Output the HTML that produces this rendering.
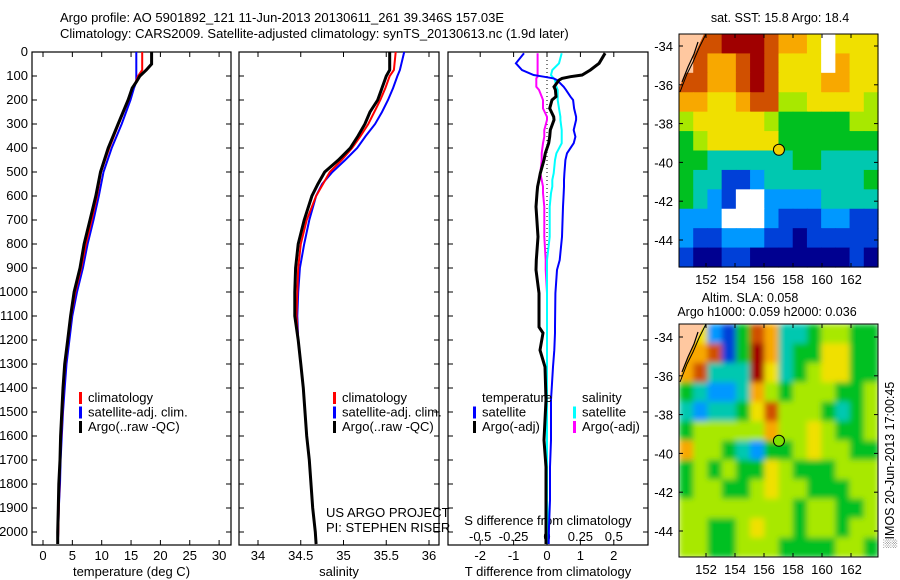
<!DOCTYPE html>
<html><head><meta charset="utf-8"><title>Argo profile</title>
<style>
html,body{margin:0;padding:0;background:#fff;}
svg{display:block;font-family:"Liberation Sans",sans-serif;font-size:12px;}
</style></head>
<body>
<svg id="chart" width="900" height="580" viewBox="0 0 900 580" xmlns="http://www.w3.org/2000/svg">
<defs>
<filter id="blur" x="-5%" y="-5%" width="110%" height="110%"><feGaussianBlur stdDeviation="3"/></filter>
<clipPath id="clip2"><rect x="679" y="324" width="199" height="233"/></clipPath>
</defs>
<text x="60" y="22" font-size="13">Argo profile: AO 5901892_121 11-Jun-2013 20130611_261 39.346S 157.03E</text>
<text x="60" y="38" font-size="13">Climatology: CARS2009. Satellite-adjusted climatology: synTS_20130613.nc (1.9d later)</text>
<g id="g"></g>
</svg>
<script>
// ---------- data ----------
const depthTemp = [0,50,75,100,125,150,200,300,400,500,600,700,800,900,1000,1100,1200,1300,1400,1500,1600,1700,1800,1900,2000,2050];
const tempArgo  = [18.5,18.5,17.6,16.5,15.9,15.2,14.5,12.8,11.1,9.8,9.0,8.0,7.0,6.3,5.3,4.7,4.2,3.7,3.4,3.2,3.0,2.9,2.7,2.6,2.5,2.5];
const tempClim  = [16.9,16.9,16.9,16.2,15.8,15.2,14.6,12.9,11.3,9.9,9.2,8.3,7.3,6.5,5.5,4.8,4.3,3.8,3.5,3.3,3.1,2.9,2.8,2.7,2.6,2.5];
const tempSat   = [15.9,15.9,15.9,15.9,15.9,15.5,14.9,13.4,11.7,10.3,9.5,8.6,7.6,6.8,5.8,5.0,4.5,4.0,3.7,3.4,3.2,3.0,2.9,2.7,2.6,2.5];
const depthSal  = [0,75,100,150,200,250,300,350,400,450,500,550,600,700,800,900,1000,1100,1200,1300,1400,1500,1600,1700,1800,1900,2000,2050];
const salArgo   = [35.54,35.54,35.50,35.45,35.40,35.31,35.25,35.17,35.08,34.94,34.78,34.70,34.63,34.54,34.47,34.44,34.43,34.43,34.47,34.50,34.53,34.55,34.57,34.60,34.62,34.64,34.67,34.68];
const salClim   = [35.61,35.59,35.54,35.49,35.43,35.36,35.29,35.20,35.10,34.98,34.84,34.76,34.68,34.57,34.50,34.47,34.46,34.45,34.47,34.50,34.53,34.55,34.57,34.60,34.62,34.64,34.67,34.68];
const salSat    = [35.71,35.66,35.63,35.58,35.52,35.45,35.37,35.26,35.16,35.02,34.87,34.75,34.68,34.60,34.54,34.49,34.47,34.46,34.47,34.50,34.53,34.55,34.57,34.60,34.62,34.64,34.67,34.68];
const depthDiff = [5,47,75,96,103,110,117,145,158,186,200,235,270,283,325,353,380,422,450,505,533,561,588,645,770,867,908,1005,1146,1171,1242,1312,1450,1617,1729,1867,1979,2050];
const tdiffArgo = [1.74,1.56,1.30,1.05,0.70,0.45,0.36,0.21,0.25,0.27,0.15,0.08,0.20,0.21,0.10,0.08,0.05,-0.05,-0.09,-0.20,-0.24,-0.28,-0.30,-0.33,-0.27,-0.32,-0.33,-0.24,-0.24,-0.12,-0.21,-0.06,-0.03,-0.09,-0.03,-0.03,-0.03,-0.03];
const tdiffSat  = [-0.69,-0.93,-0.75,-0.40,-0.10,0.20,0.30,0.50,0.57,0.70,0.78,0.81,0.87,0.87,0.80,0.85,0.80,0.60,0.55,0.52,0.51,0.51,0.50,0.48,0.45,0.38,0.30,0.25,0.24,0.24,0.22,0.18,0.12,0.12,0.09,0.09,0.06,0.05];
const sdiffSat  = [0.11,0.09,0.04,0.03,0.04,0.05,0.06,0.07,0.08,0.08,0.08,0.09,0.10,0.10,0.11,0.11,0.11,0.07,0.06,0.05,0.04,0.04,0.03,0.02,0.02,0.0,0.0,0.0,0.0,0.0,0.0,0.0,0.0,0.0,0.0,0.0,0.01,0.01];
const sdiffArgo = [-0.07,-0.07,-0.07,-0.07,-0.07,-0.08,-0.08,-0.08,-0.06,-0.04,-0.03,-0.03,0.0,0.0,-0.02,-0.02,-0.03,-0.04,-0.04,-0.05,-0.04,-0.03,-0.03,-0.02,-0.02,-0.01,-0.01,0.0,0.0,0.0,0.0,0.0,0.0,0.0,0.0,0.0,0.0,0.0];
const depthTicks = [0,100,200,300,400,500,600,700,800,900,1000,1100,1200,1300,1400,1500,1600,1700,1800,1900,2000];
const tempTicks = [0,5,10,15,20,25,30];
const salTicks = [34,34.5,35,35.5,36];
const tdTicks = [-2,-1,0,1,2];
const sdTicks = [-0.5,-0.25,0,0.25,0.5];
const lonTicks = [152,154,156,158,160,162];
const latTicks = [-34,-36,-38,-40,-42,-44];
// SST map levels (0 navy .. 9 dark red), -1 land, 99 missing
const sstGrid = [
[-1,8,8,9,9,9,8,7,7,6,99,6,6,6],
[-1,8,7,7,8,9,8,6,6,6,99,7,6,6],
[8,8,7,7,8,9,8,6,6,6,7,7,6,6],
[7,7,6,6,7,8,8,5,5,6,6,6,6,5],
[5,6,6,6,6,6,5,4,4,4,4,4,5,5],
[4,5,6,6,6,6,6,4,4,4,4,4,4,4],
[4,4,3,3,3,3,3,3,4,4,3,3,3,3],
[4,3,3,1,1,2,3,3,3,3,3,3,3,4],
[4,3,2,1,99,99,2,2,2,2,3,3,3,3],
[2,2,2,99,99,99,2,1,1,1,2,2,1,1],
[2,1,1,2,2,2,1,1,0,1,1,1,1,1],
[1,0,0,1,1,0,0,0,0,0,0,0,1,0]];
const slaGrid = [
[7,6,2,1,4,8,7,3,3,4,5,5,4,4],
[7,7,8,1,4,9,7,3,4,4,6,6,4,4],
[7,8,3,3,3,9,6,3,4,5,6,6,4,4],
[4,3,2,2,3,7,5,4,5,5,5,4,4,5],
[3,2,3,3,4,6,8,5,5,5,4,3,4,5],
[4,5,5,5,5,5,7,5,5,6,5,4,4,5],
[7,5,5,4,3,2,4,4,5,6,5,5,4,4],
[4,5,4,5,4,4,6,5,4,4,4,5,5,5],
[4,5,5,4,4,5,6,5,5,4,4,4,5,5],
[5,5,5,5,5,5,5,5,4,5,5,4,4,5],
[5,5,4,4,5,6,5,5,4,5,5,4,5,5],
[5,5,4,4,5,5,5,4,4,4,4,5,5,4]];
const argoLon = 157.03, argoLat = -39.35;
const palette = ['#000090','#0040d8','#0098ff','#00c8b0','#00c020','#a8e800','#f0e000','#f8a800','#d05000','#a00000'];

// ---------- helpers ----------
const NS='http://www.w3.org/2000/svg';
const G=document.getElementById('g');
function el(tag,attrs,parent){const e=document.createElementNS(NS,tag);for(const k in attrs)e.setAttribute(k,attrs[k]);(parent||G).appendChild(e);return e;}
function txt(x,y,s,anchor,parent,size){const t=el('text',{x:x,y:y,'text-anchor':anchor||'start'},parent);if(size)t.setAttribute('font-size',size);t.textContent=s;return t;}
const yD = d => 52 + d*0.24;
const TOP=52, BOT=545;

function panel(name,x0,x1,xs,ticks,tickFmt,leftLabels,label){
  const g=el('g',{});
  
  
  el('rect',{x:x0,y:TOP,width:x1-x0,height:BOT-TOP,fill:'none',stroke:'#000','stroke-width':1.2},g);
  depthTicks.forEach(d=>{
    const y=yD(d);
    el('line',{x1:x0,y1:y,x2:x0+5,y2:y,stroke:'#000'},g);
    el('line',{x1:x1-5,y1:y,x2:x1,y2:y,stroke:'#000'},g);
    if(leftLabels){const t=txt(28,y+4,String(d),'end',g,13);}
  });
  ticks.forEach(v=>{
    const x=xs(v);
    el('line',{x1:x,y1:TOP,x2:x,y2:TOP+5,stroke:'#000'},g);
    el('line',{x1:x,y1:BOT-5,x2:x,y2:BOT,stroke:'#000'},g);
    if(tickFmt){const t=txt(x,560,tickFmt(v),'middle',g,13);}
  });
  if(label){const t=txt((x0+x1)/2,576,label,'middle',g,13);}
  return g;
}
function line(xs,depths,vals,color,w,name){
  let d='';
  vals.forEach((v,i)=>{d+=(i?'L':'M')+xs(v).toFixed(1)+','+yD(depths[i]).toFixed(1);});
  const p=el('path',{d:d,fill:'none',stroke:color,'stroke-width':w,'stroke-linejoin':'miter'});
  
  
  return p;
}
function legend(x,y,items,name){
  const g=el('g',{});
  
  
  items.forEach((it,i)=>{
    const yy=y+i*14.5;
    if(it[1]) el('rect',{x:x,y:yy-10,width:3,height:12,fill:it[1]},g);
    txt(x+9,yy,it[0],'start',g,13);
  });
}

// ---------- panel 1: temperature ----------
const xT = v => 43 + v*5.87;
panel('temperature-panel',32,231,xT,tempTicks,v=>String(v),true,'temperature (deg C)');
line(xT,depthTemp,tempSat,'#0000ff',2,'temp-satellite-line');
line(xT,depthTemp,tempClim,'#ff0000',2,'temp-climatology-line');
line(xT,depthTemp,tempArgo,'#000000',3,'temp-argo-line');
legend(79,402,[['climatology','#ff0000'],['satellite-adj. clim.','#0000ff'],['Argo(..raw -QC)','#000']],'temperature-legend');

// ---------- panel 2: salinity ----------
const xS = v => 258 + (v-34)*85.5;
panel('salinity-panel',239,439,xS,salTicks,v=>String(v),false,'salinity');
line(xS,depthSal,salSat,'#0000ff',2,'sal-satellite-line');
line(xS,depthSal,salClim,'#ff0000',2,'sal-climatology-line');
line(xS,depthSal,salArgo,'#000000',3,'sal-argo-line');
legend(333,402,[['climatology','#ff0000'],['satellite-adj. clim.','#0000ff'],['Argo(..raw -QC)','#000']],'salinity-legend');
txt(326,517,'US ARGO PROJECT','start',null,13);
txt(326,532,'PI: STEPHEN RISER','start',null,13);

// ---------- panel 3: differences ----------
const xTD = v => 547 + v*33.4;
const xSD = v => 547 + v*133.6;
panel('difference-panel',448,648,xTD,tdTicks,v=>String(v),false,'T difference from climatology');
sdTicks.forEach(v=>{const t=txt(xSD(v),541,String(v),'middle',null,13);});
txt(548,525,'S difference from climatology','middle',null,13);
el('line',{x1:xTD(0),y1:TOP,x2:xTD(0),y2:BOT,stroke:'#000','stroke-dasharray':'1,3'});
line(xSD,depthDiff,sdiffArgo,'#ff00ff',2,'sdiff-argo-line');
line(xSD,depthDiff,sdiffSat,'#00ffff',2,'sdiff-satellite-line');
line(xTD,depthDiff,tdiffSat,'#0000ff',2,'tdiff-satellite-line');
line(xTD,depthDiff,tdiffArgo,'#000000',3,'tdiff-argo-line');
legend(473,402,[['temperature',null],['satellite','#0000ff'],['Argo(-adj)','#000']],'tdiff-legend');
legend(573,402,[['salinity',null],['satellite','#00ffff'],['Argo(-adj)','#ff00ff']],'sdiff-legend');

// ---------- maps ----------
function map(name,grid,x0,x1,y0,y1,latRef,latPx,smooth){
  const g=el('g',{});
  
  
  const lonX = lo => 706 + (lo-152)*14.5;
  const latY = la => latRef + (-34-la)*latPx;
  const nr=grid.length, nc=grid[0].length;
  const cw=(x1-x0)/nc, ch=(y1-y0)/nr;
  let cells=g;
  if(smooth){
    const clipG=el('g',{'clip-path':'url(#clip2)'},g);
    cells=el('g',{filter:'url(#blur)'},clipG);
  }
  grid.forEach((row,r)=>row.forEach((v,c)=>{
    const fill = v===-1 ? '#ffc8a0' : (v===99 ? '#ffffff' : palette[v]);
    const rc=el('rect',{x:(x0+c*cw).toFixed(2),y:(y0+r*ch).toFixed(2),width:(cw+0.6).toFixed(2),height:(ch+0.6).toFixed(2),fill:fill},cells);
    
    
  }));
  // land & coastline
  el('polygon',{points:`${x0},${y0} ${x0+25},${y0} ${x0},${y0+54}`,fill:'#ffc8a0'},g);
  el('polyline',{points:`${x0+1},${y0+58} ${x0+8},${y0+40} ${x0+14},${y0+28} ${x0+20},${y0+14} ${x0+27},${y0}`,fill:'none',stroke:'#000','stroke-width':1},g);
  el('polyline',{points:`${x0+3},${y0+48} ${x0+9},${y0+33} ${x0+15},${y0+20} ${x0+19},${y0+8}`,fill:'none',stroke:'#000','stroke-width':1.2},g);
  el('rect',{x:x0,y:y0,width:x1-x0,height:y1-y0,fill:'none',stroke:'#000'},g);
  lonTicks.forEach(lo=>{const x=lonX(lo);
    el('line',{x1:x,y1:y0,x2:x,y2:y0+4,stroke:'#000'},g);
    el('line',{x1:x,y1:y1-4,x2:x,y2:y1,stroke:'#000'},g);
    txt(x,y1+17,String(lo),'middle',g,13);});
  latTicks.forEach(la=>{const y=latY(la);
    el('line',{x1:x0,y1:y,x2:x0+4,y2:y,stroke:'#000'},g);
    el('line',{x1:x1-4,y1:y,x2:x1,y2:y,stroke:'#000'},g);
    txt(x0-6,y+5,String(la),'end',g,13);});
  return {g,lonX,latY};
}
const m1=map('sst-map',sstGrid,679,878,34,267,46,19.4,false);
const d1=el('circle',{cx:m1.lonX(argoLon),cy:m1.latY(argoLat),r:5.5,fill:'#f0d000',stroke:'#000'},m1.g);

txt(780,22,'sat. SST: 15.8 Argo: 18.4','middle',null,12.5);
const m2=map('sla-map',slaGrid,679,878,324,557,337,19.4,true);
const d2=el('circle',{cx:m2.lonX(argoLon),cy:m2.latY(argoLat),r:5.5,fill:'#80e000',stroke:'#000'},m2.g);

txt(750,302,'Altim. SLA: 0.058','middle',null,12.5);
txt(767,316,'Argo h1000: 0.059 h2000: 0.036','middle',null,12.5);
const v=txt(0,0,'\u2591IMOS 20-Jun-2013 17:00:45','middle',null,12.5);
v.setAttribute('transform','translate(894,465) rotate(-90)');


</script>
</body></html>
